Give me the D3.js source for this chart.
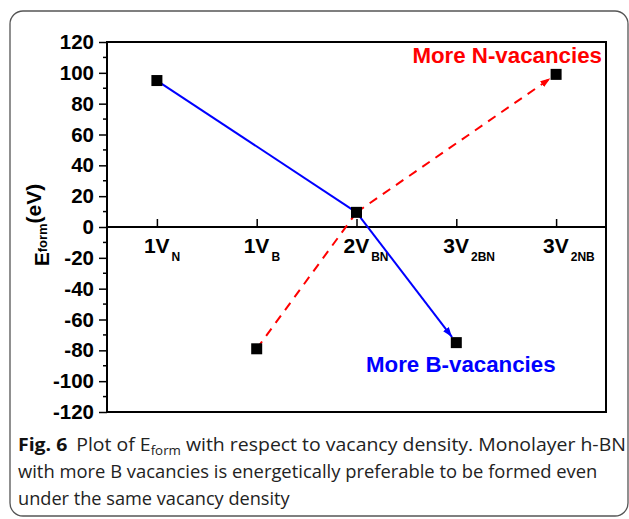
<!DOCTYPE html>
<html>
<head>
<meta charset="utf-8">
<script src="https://cdn.jsdelivr.net/npm/d3@7/dist/d3.min.js"></script>
<style>
  html, body { margin: 0; padding: 0; background: #fff; }
  svg { display: block; }
</style>
</head>
<body>
<svg id="chart" width="629" height="519"></svg>
<script>
// Vacancy configurations along the x axis
const categories = ["1V_N", "1V_B", "2V_BN", "3V_2BN", "3V_2NB"];
const catMain = ["1V", "1V", "2V", "3V", "3V"];
const catSub = ["N", "B", "BN", "2BN", "2NB"];

// Formation energy (eV) per configuration
const energies = [95, -79, 9.5, -75, 99];

// Paths: B-rich route (solid blue) and N-rich route (dashed red)
const bPath = ["1V_N", "2V_BN", "3V_2BN"];
const nPath = ["1V_B", "2V_BN", "3V_2NB"];

const yTicks = [120, 100, 80, 60, 40, 20, 0, -20, -40, -60, -80, -100, -120];
const yMinor = d3.range(-110, 120, 20);

const captionLines = [
  "Plot of E_form with respect to vacancy density. Monolayer h-BN",
  "with more B vacancies is energetically preferable to be formed even",
  "under the same vacancy density"
];

const svg = d3.select("#chart");
const chartFont = "'Liberation Sans', Arial, sans-serif";
const capFont = "'Open Sans', 'Noto Sans', sans-serif";

// outer rounded frame
svg.append("rect")
  .attr("x", 10).attr("y", 11).attr("width", 618).attr("height", 505)
  .attr("rx", 13).attr("ry", 13)
  .attr("fill", "none").attr("stroke", "#555").attr("stroke-width", 1.3);

const plot = { left: 107, top: 42, right: 606, bottom: 412 };

const x = d3.scalePoint().domain(categories)
  .range([plot.left, plot.right]).padding(0.5);
const y = d3.scaleLinear().domain([-120, 120]).range([plot.bottom, plot.top]);

const valueOf = Object.fromEntries(categories.map((c, i) => [c, energies[i]]));

// arrow markers
const defs = svg.append("defs");
[["arrBlue", "#0000ff"], ["arrRed", "#ff0000"]].forEach(([id, col]) => {
  defs.append("marker")
    .attr("id", id).attr("viewBox", "0 0 10 10")
    .attr("refX", 10).attr("refY", 5)
    .attr("markerWidth", 5).attr("markerHeight", 5)
    .attr("markerUnits", "strokeWidth")
    .attr("orient", "auto")
    .append("path").attr("d", "M0,1.5 L10,5 L0,8.5 Z").attr("fill", col);
});

// plot frame
svg.append("rect")
  .attr("x", plot.left).attr("y", plot.top)
  .attr("width", plot.right - plot.left).attr("height", plot.bottom - plot.top)
  .attr("fill", "none").attr("stroke", "#000").attr("stroke-width", 2);

// y axis
const yAxis = svg.append("g")
  .attr("transform", `translate(${plot.left},0)`)
  .call(d3.axisLeft(y).tickValues(yTicks).tickSize(8).tickPadding(5)
    .tickFormat(d => String(d)));
yAxis.select(".domain").remove();
yAxis.selectAll(".tick line").attr("stroke-width", 1.5);
yAxis.selectAll("text")
  .attr("font-family", chartFont).attr("font-weight", "bold")
  .attr("font-size", 20.5).attr("fill", "#000");

svg.append("g").selectAll("line").data(yMinor).join("line")
  .attr("x1", plot.left - 4).attr("x2", plot.left)
  .attr("y1", d => y(d)).attr("y2", d => y(d))
  .attr("stroke", "#000").attr("stroke-width", 1.5);

// zero line with upward ticks
const xAxis = svg.append("g")
  .attr("transform", `translate(0,${y(0)})`)
  .call(d3.axisTop(x).tickSize(8).tickFormat(""));
xAxis.select(".domain")
  .attr("d", `M${plot.left},0H${plot.right}`)
  .attr("stroke-width", 1.8);
xAxis.selectAll(".tick line").attr("stroke-width", 1.5);

// category labels with subscripts
const lab = svg.append("g").selectAll("text").data(categories).join("text")
  .attr("x", d => x(d) - 13)
  .attr("y", y(0) + 26)
  .attr("font-family", chartFont).attr("font-weight", "bold")
  .attr("font-size", 21).attr("fill", "#000");
lab.append("tspan").text((d, i) => catMain[i]);
lab.append("tspan").attr("font-size", 12).attr("dx", 2).attr("dy", 8)
  .text((d, i) => catSub[i]);

// y axis title
const yt = svg.append("text")
  .attr("transform", `translate(49,${(plot.top + plot.bottom) / 2 - 2}) rotate(-90)`)
  .attr("text-anchor", "middle")
  .attr("font-family", chartFont).attr("font-weight", "bold")
  .attr("font-size", 21).attr("fill", "#000");
yt.append("tspan").text("E");
yt.append("tspan").attr("font-size", 13).attr("dy", -2).text("form");
yt.append("tspan").attr("dy", -6).text("(eV)");

// draw a route: plain first segment, arrowed second segment ending at the marker edge
function drawRoute(path, color, dash, marker) {
  const pts = path.map(c => [x(c), y(valueOf[c])]);
  const g = svg.append("g");
  g.append("line")
    .attr("x1", pts[0][0]).attr("y1", pts[0][1])
    .attr("x2", pts[1][0]).attr("y2", pts[1][1])
    .attr("stroke", color).attr("stroke-width", 2)
    .attr("stroke-dasharray", dash);
  const [a, b] = [pts[1], pts[2]];
  const len = Math.hypot(b[0] - a[0], b[1] - a[1]);
  const back = 7;
  const ex = b[0] - (b[0] - a[0]) / len * back;
  const ey = b[1] - (b[1] - a[1]) / len * back;
  g.append("line")
    .attr("x1", a[0]).attr("y1", a[1])
    .attr("x2", ex).attr("y2", ey)
    .attr("stroke", color).attr("stroke-width", 2)
    .attr("stroke-dasharray", dash)
    .attr("marker-end", `url(#${marker})`);
}
drawRoute(nPath, "#ff0000", "9,7", "arrRed");
drawRoute(bPath, "#0000ff", null, "arrBlue");

// data markers
svg.append("g").selectAll("rect").data(categories).join("rect")
  .attr("x", d => x(d) - 5.5).attr("y", d => y(valueOf[d]) - 5.5)
  .attr("width", 11).attr("height", 11).attr("fill", "#000");

// route annotations
svg.append("text")
  .attr("x", 602).attr("y", 63).attr("text-anchor", "end")
  .attr("font-family", chartFont).attr("font-weight", "bold")
  .attr("font-size", 22.3).attr("fill", "#ff0000")
  .text("More N-vacancies");
svg.append("text")
  .attr("x", 366).attr("y", 372)
  .attr("font-family", chartFont).attr("font-weight", "bold")
  .attr("font-size", 22.3).attr("fill", "#0000ff")
  .text("More B-vacancies");

// caption
const cap = svg.append("g")
  .attr("font-family", capFont).attr("font-size", 17.5).attr("fill", "#222");
const l1 = cap.append("text").attr("x", 18).attr("y", 451);
l1.append("tspan").attr("font-weight", "bold").attr("fill", "#111").text("Fig. 6");
l1.append("tspan").attr("dx", 8).text("Plot of E");
l1.append("tspan").attr("font-size", 12).attr("dy", 4).text("form");
l1.append("tspan").attr("dy", -4).text(" with respect to vacancy density. Monolayer h-BN");
cap.append("text").attr("x", 18).attr("y", 478).text(captionLines[1]);
cap.append("text").attr("x", 18).attr("y", 505).text(captionLines[2]);

// fit caption lines to the column width
const targets = [599, 580, 272];
cap.selectAll("text").each(function(d, i) {
  const w = this.getComputedTextLength();
  const s = targets[i] / w;
  d3.select(this).attr("transform",
    `translate(18,0) scale(${s},1) translate(-18,0)`);
});
</script>
</body>
</html>
